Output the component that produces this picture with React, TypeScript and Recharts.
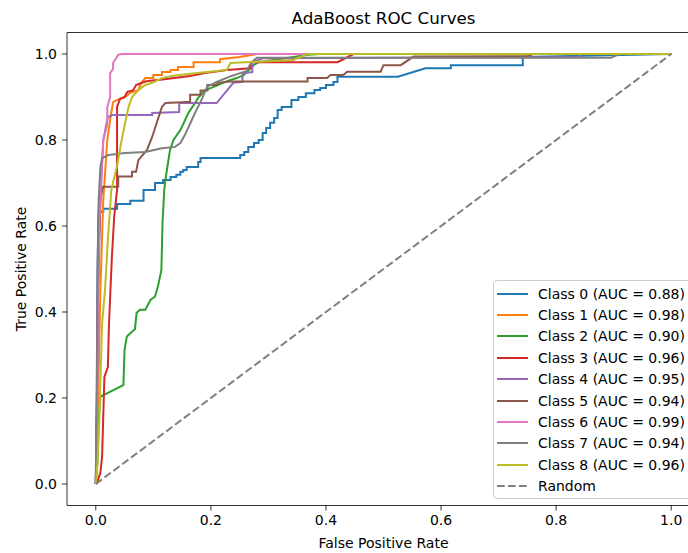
import React from "react";
import {
  LineChart,
  Line,
  XAxis,
  YAxis,
  Legend,
  Label,
  ReferenceLine,
} from "recharts";

type Pt = [number, number]; // [fpr, tpr]

const FONT = "'DejaVu Sans', sans-serif";

// ROC points, [false positive rate, true positive rate]
const class0: Pt[] = [
  [0, 0], [0.002, 0.2], [0.003, 0.5], [0.005, 0.633], [0.013, 0.633], [0.013, 0.64],
  [0.037, 0.64], [0.037, 0.651], [0.06, 0.651], [0.06, 0.659], [0.083, 0.659], [0.083, 0.684],
  [0.103, 0.684], [0.103, 0.7], [0.117, 0.7], [0.117, 0.707], [0.13, 0.707], [0.13, 0.714],
  [0.14, 0.714], [0.14, 0.719], [0.147, 0.719], [0.147, 0.726], [0.152, 0.726], [0.152, 0.73],
  [0.158, 0.73], [0.158, 0.737], [0.178, 0.737], [0.178, 0.749], [0.182, 0.749], [0.182, 0.758],
  [0.251, 0.758], [0.251, 0.765], [0.258, 0.765], [0.258, 0.772], [0.265, 0.772], [0.265, 0.784],
  [0.275, 0.784], [0.275, 0.793], [0.283, 0.793], [0.283, 0.8], [0.29, 0.8], [0.29, 0.816],
  [0.296, 0.816], [0.296, 0.828], [0.303, 0.828], [0.303, 0.84], [0.31, 0.84], [0.31, 0.851],
  [0.316, 0.851], [0.316, 0.87], [0.323, 0.87], [0.323, 0.877], [0.34, 0.877], [0.34, 0.893],
  [0.352, 0.893], [0.352, 0.9], [0.365, 0.9], [0.365, 0.909], [0.38, 0.909], [0.38, 0.916],
  [0.39, 0.916], [0.39, 0.921], [0.4, 0.921], [0.4, 0.928], [0.413, 0.928], [0.413, 0.935],
  [0.42, 0.935], [0.42, 0.947], [0.525, 0.947], [0.573, 0.967], [0.617, 0.967], [0.617, 0.974],
  [0.742, 0.974], [0.742, 0.993], [1, 1],
];
const class1: Pt[] = [
  [0, 0], [0.002, 0.1], [0.004, 0.195], [0.008, 0.45], [0.013, 0.66], [0.02, 0.8],
  [0.025, 0.847], [0.03, 0.888], [0.04, 0.895], [0.051, 0.9], [0.06, 0.91], [0.074, 0.916],
  [0.078, 0.93], [0.086, 0.944], [0.1, 0.944], [0.1, 0.951], [0.115, 0.951], [0.115, 0.958],
  [0.13, 0.958], [0.13, 0.963], [0.143, 0.963], [0.143, 0.97], [0.17, 0.97], [0.17, 0.981],
  [0.216, 0.981], [0.216, 0.988], [0.25, 0.993], [0.28, 1], [1, 1],
];
const class2: Pt[] = [
  [0, 0], [0.003, 0.05], [0.005, 0.15], [0.008, 0.203], [0.048, 0.23], [0.05, 0.312],
  [0.054, 0.343], [0.063, 0.354], [0.068, 0.36], [0.071, 0.398], [0.077, 0.405], [0.086, 0.405],
  [0.095, 0.428], [0.103, 0.436], [0.108, 0.459], [0.114, 0.498], [0.116, 0.607], [0.119, 0.684],
  [0.121, 0.707], [0.129, 0.777], [0.135, 0.8], [0.147, 0.823], [0.153, 0.84], [0.161, 0.863],
  [0.17, 0.881], [0.178, 0.898], [0.19, 0.916], [0.204, 0.923], [0.228, 0.937], [0.245, 0.944],
  [0.257, 0.951], [0.274, 0.974], [0.283, 0.981], [0.344, 0.993], [0.368, 0.998], [0.39, 1], [1, 1],
];
const class3: Pt[] = [
  [0, 0], [0.002, 0.002], [0.008, 0.026], [0.011, 0.063], [0.015, 0.249], [0.021, 0.272],
  [0.023, 0.374], [0.028, 0.528], [0.032, 0.621], [0.037, 0.684], [0.037, 0.877], [0.042, 0.895],
  [0.05, 0.9], [0.055, 0.912], [0.065, 0.916], [0.07, 0.928], [0.08, 0.933], [0.09, 0.937],
  [0.112, 0.94], [0.164, 0.949], [0.19, 0.956], [0.228, 0.963], [0.268, 0.967], [0.272, 0.981],
  [0.42, 0.981], [0.448, 1], [1, 1],
];
const class4: Pt[] = [
  [0, 0], [0.002, 0.15], [0.004, 0.43], [0.008, 0.66], [0.013, 0.8], [0.021, 0.853],
  [0.028, 0.858], [0.098, 0.858], [0.098, 0.863], [0.145, 0.865], [0.145, 0.886], [0.21, 0.886],
  [0.239, 0.933], [0.255, 0.935], [0.255, 0.955], [0.272, 0.958], [0.272, 0.98], [0.29, 0.99],
  [0.84, 0.993], [0.845, 1], [1, 1],
];
const class5: Pt[] = [
  [0, 0], [0.002, 0.2], [0.004, 0.5], [0.008, 0.66], [0.012, 0.691], [0.039, 0.691],
  [0.039, 0.715], [0.063, 0.715], [0.063, 0.726], [0.07, 0.726], [0.074, 0.753], [0.089, 0.777],
  [0.098, 0.807], [0.106, 0.84], [0.115, 0.877], [0.121, 0.886], [0.15, 0.888], [0.164, 0.889],
  [0.164, 0.905], [0.182, 0.905], [0.182, 0.915], [0.194, 0.915], [0.194, 0.928], [0.211, 0.928],
  [0.211, 0.933], [0.234, 0.936], [0.368, 0.936], [0.368, 0.944], [0.402, 0.944], [0.408, 0.951],
  [0.43, 0.951], [0.437, 0.959], [0.495, 0.959], [0.5, 0.974], [0.53, 0.974], [0.552, 0.994],
  [0.75, 0.995], [0.76, 1], [1, 1],
];
const class6: Pt[] = [
  [0, 0], [0.002, 0.1], [0.004, 0.45], [0.006, 0.6], [0.008, 0.66], [0.01, 0.72],
  [0.013, 0.8], [0.02, 0.835], [0.02, 0.877], [0.025, 0.9], [0.025, 0.956], [0.03, 0.965],
  [0.03, 0.979], [0.039, 0.998], [0.045, 1], [1, 1],
];
const class7: Pt[] = [
  [0, 0], [0.002, 0.3], [0.004, 0.6], [0.005, 0.66], [0.008, 0.737], [0.011, 0.758],
  [0.022, 0.765], [0.051, 0.77], [0.086, 0.772], [0.115, 0.781], [0.138, 0.784], [0.147, 0.793],
  [0.155, 0.812], [0.167, 0.847], [0.175, 0.87], [0.182, 0.888], [0.194, 0.925], [0.203, 0.93],
  [0.21, 0.935], [0.236, 0.949], [0.252, 0.956], [0.262, 0.96], [0.27, 0.98], [0.28, 0.991],
  [0.895, 0.991], [0.91, 1], [1, 1],
];
const class8: Pt[] = [
  [0, 0], [0.003, 0.05], [0.006, 0.142], [0.011, 0.374], [0.016, 0.451], [0.021, 0.567],
  [0.027, 0.684], [0.037, 0.74], [0.045, 0.8], [0.051, 0.84], [0.057, 0.877], [0.063, 0.9],
  [0.074, 0.916], [0.086, 0.928], [0.098, 0.933], [0.115, 0.944], [0.132, 0.949], [0.156, 0.953],
  [0.194, 0.958], [0.228, 0.963], [0.234, 0.979], [0.343, 0.986], [0.368, 1], [1, 1],
];
const randomLine: Pt[] = [[0, 0], [1, 1]];

const classCurves = [class0, class1, class2, class3, class4, class5, class6, class7, class8];
const aucValues = ["0.88", "0.98", "0.90", "0.96", "0.95", "0.94", "0.99", "0.94", "0.96"];
const classColors = [
  "#1f77b4", "#ff7f0e", "#2ca02c", "#d62728", "#9467bd",
  "#8c564b", "#e377c2", "#7f7f7f", "#bcbd22",
];
const axisTicks = [0, 0.2, 0.4, 0.6, 0.8, 1.0];
const axisDomain: [number, number] = [-0.05, 1.05];

const toRows = (pts: Pt[]) => pts.map(([x, y]) => ({ x, y }));

const series = classCurves.map((pts, i) => ({
  name: `Class ${i} (AUC = ${aucValues[i]})`,
  color: classColors[i],
  data: toRows(pts),
}));

const legendItems = [
  ...series.map((s) => ({ name: s.name, color: s.color, dashed: false })),
  { name: "Random", color: "#808080", dashed: true },
];

const renderLegend = () => (
  <div
    style={{
      width: 200,
      height: 219,
      boxSizing: "border-box",
      border: "1px solid #cccccc",
      borderRadius: 4,
      background: "rgba(255,255,255,0.8)",
      paddingTop: 2,
      fontFamily: FONT,
      fontSize: 14,
      color: "#000",
    }}
  >
    {legendItems.map((item) => (
      <div
        key={item.name}
        style={{ display: "flex", alignItems: "center", height: 21.4, whiteSpace: "nowrap" }}
      >
        <svg width={31} height={10} style={{ marginLeft: 3, marginRight: 10, flexShrink: 0 }}>
          <line
            x1={0}
            y1={5}
            x2={31}
            y2={5}
            stroke={item.color}
            strokeWidth={2}
            strokeDasharray={item.dashed ? "7.7 3.3" : undefined}
          />
        </svg>
        <span>{item.name}</span>
      </div>
    ))}
  </div>
);

const tickStyle = { fill: "#000", fontSize: 14, fontFamily: FONT };
const fmt = (v: number) => v.toFixed(1);

const App = () => {
  return (
    <div
      style={{
        position: "absolute",
        left: 0,
        top: 0,
        width: 688,
        height: 553,
        overflow: "hidden",
        background: "#fff",
      }}
    >
      <LineChart
        width={720}
        height={553}
        margin={{ top: 32.5, right: 20, bottom: 0, left: 0 }}
      >
        <XAxis
          dataKey="x"
          type="number"
          domain={axisDomain}
          ticks={axisTicks}
          tickFormatter={fmt}
          allowDataOverflow
          height={47.5}
          tick={tickStyle}
          tickSize={5}
          tickMargin={5}
          axisLine={{ stroke: "#000", strokeWidth: 0.8 }}
          tickLine={{ stroke: "#000", strokeWidth: 0.8 }}
        >
          <Label
            content={({ viewBox }: any) => (
              <text
                x={viewBox.x + viewBox.width / 2}
                y={543}
                textAnchor="middle"
                dominantBaseline="central"
                fontSize={14}
                fontFamily={FONT}
                fill="#000"
              >
                False Positive Rate
              </text>
            )}
          />
        </XAxis>
        <YAxis
          type="number"
          domain={axisDomain}
          ticks={axisTicks}
          tickFormatter={fmt}
          allowDataOverflow
          width={67}
          tick={tickStyle}
          tickSize={5}
          tickMargin={5}
          axisLine={{ stroke: "#000", strokeWidth: 0.8 }}
          tickLine={{ stroke: "#000", strokeWidth: 0.8 }}
        >
          <Label
            content={({ viewBox }: any) => {
              const cy = viewBox.y + viewBox.height / 2;
              return (
                <text
                  x={21}
                  y={cy}
                  transform={`rotate(-90, 21, ${cy})`}
                  textAnchor="middle"
                  dominantBaseline="central"
                  fontSize={14}
                  fontFamily={FONT}
                  fill="#000"
                >
                  True Positive Rate
                </text>
              );
            }}
          />
        </YAxis>
        {/* top spine, carrying the title */}
        <ReferenceLine y={axisDomain[1]} stroke="#000" strokeWidth={0.8} ifOverflow="visible">
          <Label
            content={({ viewBox }: any) => (
              <text
                x={viewBox.x + viewBox.width / 2}
                y={viewBox.y - 8.5}
                textAnchor="middle"
                fontSize={16.7}
                fontFamily={FONT}
                fill="#000"
              >
                AdaBoost ROC Curves
              </text>
            )}
          />
        </ReferenceLine>
        {series.map((s) => (
          <Line
            key={s.name}
            data={s.data}
            dataKey="y"
            name={s.name}
            type="linear"
            stroke={s.color}
            strokeWidth={2}
            dot={false}
            activeDot={false}
            isAnimationActive={false}
          />
        ))}
        <Line
          data={toRows(randomLine)}
          dataKey="y"
          name="Random"
          type="linear"
          stroke="#808080"
          strokeWidth={2}
          strokeDasharray="7.7 3.3"
          dot={false}
          activeDot={false}
          isAnimationActive={false}
        />
        <Legend
          layout="vertical"
          align="center"
          verticalAlign="middle"
          content={renderLegend}
          wrapperStyle={{ left: 493, top: 280, width: 200 }}
        />
      </LineChart>
    </div>
  );
};

export default App;
